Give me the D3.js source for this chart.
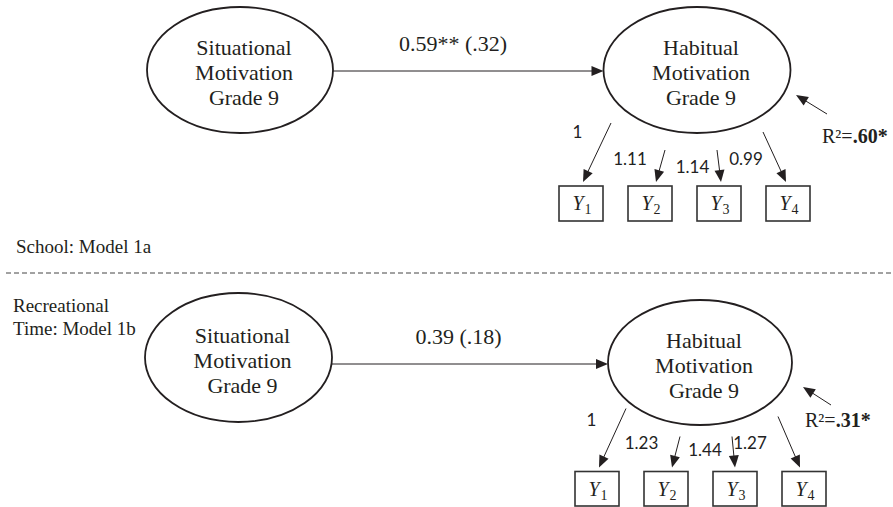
<!DOCTYPE html>
<html><head><meta charset="utf-8">
<script src="https://cdn.jsdelivr.net/npm/d3@7"></script>
<style>html,body{margin:0;padding:0;background:#fff;} svg{display:block;}</style>
</head><body>
<svg id="chart" width="893" height="507"></svg>
<script>
// ---- data ----
const modelLabels = [["School: Model 1a"], ["Recreational", "Time: Model 1b"]];
const exogenousLines = ["Situational", "Motivation", "Grade 9"];
const endogenousLines = ["Habitual", "Motivation", "Grade 9"];
const pathCoefficients = ["0.59** (.32)", "0.39 (.18)"];
const indicators = ["1", "2", "3", "4"];
const loadingsSchool = [1, 1.11, 1.14, 0.99];
const loadingsRecreational = [1, 1.23, 1.44, 1.27];
const rSquared = [".60*", ".31*"];

// ---- drawing ----
const svg = d3.select("#chart");
const ink = "#231f20";
const serif = "'Liberation Serif','Times New Roman',serif";
const sans = "Lato,'Open Sans',sans-serif";

const layout = [
  { left:{cx:240, cy:70, rx:93, ry:63}, right:{cx:697, cy:70, rx:93.5, ry:63}, arrowY:71, coefX:453,
    boxX0:559, boxTop:186, boxH:35, tailDx:[30,15,-2,-25], tailDy:[-63,-36,-36,-54], tipDx:[2,6,2,-2],
    labelDx:[-3.5,-20,-26.5,-42], labelDy:[-48,-21,-13,-21],
    resid:[827,114,796,95], r2X:822, r2Y:143, modelX:16, modelY:253, loadings:loadingsSchool },
  { left:{cx:238.5, cy:357.5, rx:93.5, ry:64.5}, right:{cx:700, cy:362.5, rx:92, ry:62.5}, arrowY:364, coefX:458.5,
    boxX0:575, boxTop:471.5, boxH:34.5, tailDx:[29,14,-3,-26], tailDy:[-63,-35,-35,-55], tipDx:[2,6,0,-4],
    labelDx:[-5.5,-24.5,-30,-54], labelDy:[-46,-23,-16,-23],
    resid:[831,405,803,387], r2X:805, r2Y:427, modelX:13, modelY:312, loadings:loadingsRecreational }
];

function arrow(g, x1, y1, x2, y2, sw) {
  const len = Math.hypot(x2 - x1, y2 - y1), ux = (x2 - x1) / len, uy = (y2 - y1) / len;
  const hl = 12, hw = 5;
  const bx = x2 - ux * hl, by = y2 - uy * hl;
  g.append("line").attr("x1", x1).attr("y1", y1).attr("x2", bx + ux * 1).attr("y2", by + uy * 1)
    .attr("stroke", ink).attr("stroke-width", sw || 1);
  g.append("path").attr("d", d3.line()([[x2, y2], [bx - uy * hw, by + ux * hw], [bx + uy * hw, by - ux * hw]]) + "Z")
    .attr("fill", ink);
}

function ellipse(g, e, lines) {
  g.append("ellipse").attr("cx", e.cx).attr("cy", e.cy).attr("rx", e.rx).attr("ry", e.ry)
    .attr("fill", "none").attr("stroke", ink).attr("stroke-width", 1.8);
  const t = g.append("text").attr("font-family", serif).attr("font-size", 22).attr("fill", ink)
    .attr("text-anchor", "middle");
  const yLine = d3.scaleLinear().domain([0, 2]).range([e.cy - 15, e.cy + 35]);
  lines.forEach((l, i) => t.append("tspan").attr("x", e.cx + 4).attr("y", yLine(i)).text(l));
}

const fmtLoad = d => d === 1 ? "1" : d3.format(".2f")(d);

layout.forEach((L, p) => {
  const g = svg.append("g");
  ellipse(g, L.left, exogenousLines);
  ellipse(g, L.right, endogenousLines);

  // structural path
  arrow(g, L.left.cx + L.left.rx, L.arrowY, L.right.cx - L.right.rx, L.arrowY, 1);
  g.append("text").attr("x", L.coefX).attr("y", L.arrowY - 20).attr("text-anchor", "middle")
    .attr("font-family", serif).attr("font-size", 22).attr("fill", ink).text(pathCoefficients[p]);

  // indicators
  const x = d3.scaleLinear().domain([0, 3]).range([L.boxX0, L.boxX0 + 207]);
  const bw = 44;
  indicators.forEach((ind, i) => {
    const bx = x(i), cxb = bx + bw / 2;
    g.append("rect").attr("x", bx).attr("y", L.boxTop).attr("width", bw).attr("height", L.boxH)
      .attr("fill", "none").attr("stroke", "#333").attr("stroke-width", 1.6);
    const t = g.append("text").attr("x", cxb + 1).attr("y", L.boxTop + 24).attr("text-anchor", "middle")
      .attr("font-family", serif).attr("fill", ink);
    t.append("tspan").attr("font-size", 20).attr("font-style", "italic").text("Y");
    t.append("tspan").attr("font-size", 14).attr("dy", 4).attr("dx", 1).text(ind);
    arrow(g, cxb + L.tailDx[i], L.boxTop + L.tailDy[i], cxb + L.tipDx[i], L.boxTop - 4, 1);
    g.append("text").attr("x", cxb + L.labelDx[i]).attr("y", L.boxTop + L.labelDy[i]).attr("text-anchor", "middle")
      .attr("font-family", sans).attr("font-size", 17).attr("fill", "#222").text(fmtLoad(L.loadings[i]));
  });

  // residual
  arrow(g, L.resid[0], L.resid[1], L.resid[2], L.resid[3], 1);
  const r = g.append("text").attr("x", L.r2X).attr("y", L.r2Y).attr("font-family", serif)
    .attr("font-size", 20).attr("fill", ink);
  r.append("tspan").text("R²=");
  r.append("tspan").attr("font-weight", "bold").text(rSquared[p]);

  // model label
  const m = g.append("text").attr("font-family", serif).attr("font-size", 19).attr("fill", ink);
  modelLabels[p].forEach((l, i) => m.append("tspan").attr("x", L.modelX).attr("y", L.modelY + i * 23).text(l));
});

// separator
svg.append("line").attr("x1", 6).attr("x2", 893).attr("y1", 273).attr("y2", 273)
  .attr("stroke", "#444").attr("stroke-width", 1).attr("stroke-dasharray", "5,3");
</script>
</body></html>
